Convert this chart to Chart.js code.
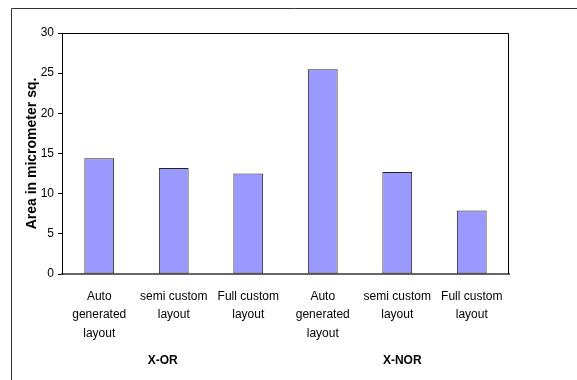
<!DOCTYPE html>
<html>
<head>
<meta charset="utf-8">
<script src="https://cdn.jsdelivr.net/npm/chart.js@4.4.1/dist/chart.umd.min.js"></script>
<style>
  html, body { margin: 0; padding: 0; background: #fff; }
  #wrap { position: relative; width: 577px; height: 380px; }
</style>
</head>
<body>
<div id="wrap"><canvas id="areaChart" width="577" height="380"></canvas></div>
<script>
const categories = [
  ['Auto', 'generated', 'layout'],
  ['semi custom', 'layout'],
  ['Full custom', 'layout'],
  ['Auto', 'generated', 'layout'],
  ['semi custom', 'layout'],
  ['Full custom', 'layout']
];
const areaValues = [14.4, 13.2, 12.5, 25.5, 12.7, 7.9];
const groups = ['X-OR', 'X-NOR'];
const groupMiddle = [1, 4]; // index of the middle category in each group
const yTicks = [0, 5, 10, 15, 20, 25, 30];

const FONT = "'Liberation Sans', Arial, sans-serif";

// outer frame + plot box + group labels
const framePlugin = {
  id: 'frame',
  afterDraw(chart) {
    const { ctx, chartArea: a, scales } = chart;
    ctx.save();
    // outer frame (only top/left edges are visible in the picture)
    ctx.strokeStyle = '#333';
    ctx.lineWidth = 1;
    ctx.beginPath();
    ctx.moveTo(11.5, 380);
    ctx.lineTo(11.5, 8.5);
    ctx.lineTo(577, 8.5);
    ctx.stroke();
    // plot box top and right
    ctx.strokeStyle = '#000';
    ctx.beginPath();
    ctx.moveTo(a.left, a.top + 0.5);
    ctx.lineTo(a.right - 0.5, a.top + 0.5);
    ctx.lineTo(a.right - 0.5, a.bottom);
    ctx.stroke();
    // group labels
    ctx.fillStyle = '#000';
    ctx.font = 'bold 12px ' + FONT;
    ctx.textAlign = 'center';
    ctx.textBaseline = 'middle';
    const shift = [-11, 5];
    groups.forEach((g, i) => {
      const x = scales.x.getPixelForValue(groupMiddle[i]) + shift[i];
      ctx.fillText(g, x, 361);
    });
    ctx.restore();
  }
};

const ctx = document.getElementById('areaChart').getContext('2d');

new Chart(ctx, {
  type: 'bar',
  data: {
    labels: categories,
    datasets: [{
      label: 'Area',
      data: areaValues,
      backgroundColor: '#9999ff',
      borderColor: '#222',
      borderWidth: 1,
      borderSkipped: false,
      barPercentage: 0.4,
      categoryPercentage: 1.0
    }]
  },
  options: {
    responsive: false,
    animation: false,
    layout: {
      padding: { left: 0, top: 33, right: 68, bottom: 0 }
    },
    scales: {
      x: {
        grid: { display: false },
        border: { display: true, color: '#666', width: 2 },
        ticks: {
          color: '#000',
          maxRotation: 0,
          autoSkip: false,
          padding: 5,
          font: { family: FONT, size: 12, lineHeight: 1.55 }
        },
        afterFit(scale) { scale.height = 106; }
      },
      y: {
        min: 0,
        max: 30,
        afterBuildTicks(scale) { scale.ticks = yTicks.map(v => ({ value: v })); },
        grid: {
          drawOnChartArea: false,
          drawTicks: true,
          tickLength: 4,
          color: '#000'
        },
        border: { display: true, color: '#000', width: 1 },
        ticks: {
          color: '#000',
          padding: 4,
          font: { family: FONT, size: 12 }
        },
        title: {
          display: true,
          text: 'Area in micrometer sq.',
          color: '#000',
          padding: { top: 24, bottom: 6 },
          font: { family: FONT, size: 14, weight: 'bold' }
        },
        afterFit(scale) { scale.width = 62; }
      }
    },
    plugins: {
      legend: { display: false },
      tooltip: { enabled: false }
    }
  },
  plugins: [framePlugin]
});
</script>
</body>
</html>
